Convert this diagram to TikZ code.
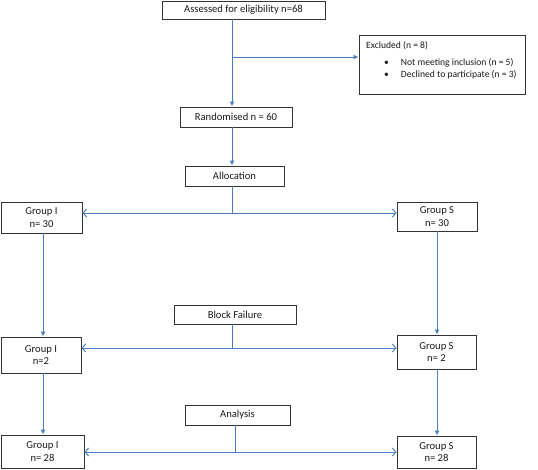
\documentclass[tikz,border=0pt]{standalone}
\usepackage{fontspec}
\setmainfont{Carlito}
\usetikzlibrary{arrows.meta}
\definecolor{lnblue}{RGB}{74,126,187}
\tikzset{
  box/.style={draw=black!80, line width=0.9pt, inner sep=0pt, align=center,
    font=\fontsize{10.6}{12.5}\selectfont, text=black!90},
  conn/.style={draw=lnblue, line width=1pt},
  farr/.style={conn, -{Latex[length=5pt,width=5pt]}},
  oarr/.style={conn, -{Straight Barb[length=3.5pt,width=8pt,line width=1pt]}},
}
\begin{document}
\begin{tikzpicture}[x=1pt,y=-1pt]
\useasboundingbox (0,0) rectangle (538,469);
% boxes
\node[box, minimum width=163pt, minimum height=18pt] (assess) at (243.5,10) {Assessed for eligibility n=68};
\node[box, minimum width=166pt, minimum height=59pt] (excl) at (442,64.5) {};
\node[anchor=north west, inner sep=0pt, align=left, font=\fontsize{9.6}{11.5}\selectfont, text=black!90] (exclt) at (366,41)
  {Excluded (n = 8)\\[6pt]
   \hspace*{18pt}•\hspace{12pt}Not meeting inclusion (n = 5)\\
   \hspace*{18pt}•\hspace{12pt}Declined to participate (n = 3)};
\node[box, minimum width=112pt, minimum height=20pt] (rand) at (236,117) {Randomised n = 60};
\node[box, minimum width=99pt, minimum height=20pt] (alloc) at (234.5,176) {Allocation};
\node[box, minimum width=81pt, minimum height=31pt] (gi1) at (41.5,217.5) {Group I\\n= 30};
\node[box, minimum width=80pt, minimum height=29pt] (gs1) at (437,216.5) {Group S\\n= 30};
\node[box, minimum width=122pt, minimum height=19pt] (bf) at (235,314.5) {Block Failure};
\node[box, minimum width=80pt, minimum height=36pt] (gi2) at (41,355) {Group I\\n=2};
\node[box, minimum width=79pt, minimum height=34pt] (gs2) at (436.5,352) {Group S\\n= 2};
\node[box, minimum width=105pt, minimum height=20pt] (an) at (237.5,415) {Analysis};
\node[box, minimum width=83pt, minimum height=33pt] (gi3) at (42.5,451.5) {Group I\\n= 28};
\node[box, minimum width=79pt, minimum height=32pt] (gs3) at (436.5,452) {Group S\\n= 28};
% helper coordinates
\coordinate (colM) at (232,0);
\coordinate (colI) at (43,0);
\coordinate (colS) at (437,0);
\coordinate (br) at (232,57);
\coordinate (j1) at (232,213);
\coordinate (j2) at (232,348);
\coordinate (j3) at (235,452);
% connectors
\draw[farr] (assess.south -| colM) -- (rand.north -| colM);
\draw[farr] (br) -- (br -| excl.west);
\draw[farr] (rand.south -| colM) -- (alloc.north -| colM);
\draw[conn] (alloc.south -| j1) -- (j1);
\draw[oarr] (j1) -- (j1 -| gi1.east);
\draw[oarr] (j1) -- (j1 -| gs1.west);
\draw[farr] (gi1.south -| colI) -- (gi2.north -| colI);
\draw[farr] (gs1.south -| colS) -- (gs2.north -| colS);
\draw[conn] (bf.south -| j2) -- (j2);
\draw[oarr] (j2) -- (j2 -| gi2.east);
\draw[oarr] (j2) -- (j2 -| gs2.west);
\draw[farr] (gi2.south -| colI) -- (gi3.north -| colI);
\draw[farr] (gs2.south -| colS) -- (gs3.north -| colS);
\draw[conn] (an.south -| j3) -- (j3);
\draw[oarr] (j3) -- (j3 -| gi3.east);
\draw[oarr] (j3) -- (j3 -| gs3.west);
\end{tikzpicture}
\end{document}
